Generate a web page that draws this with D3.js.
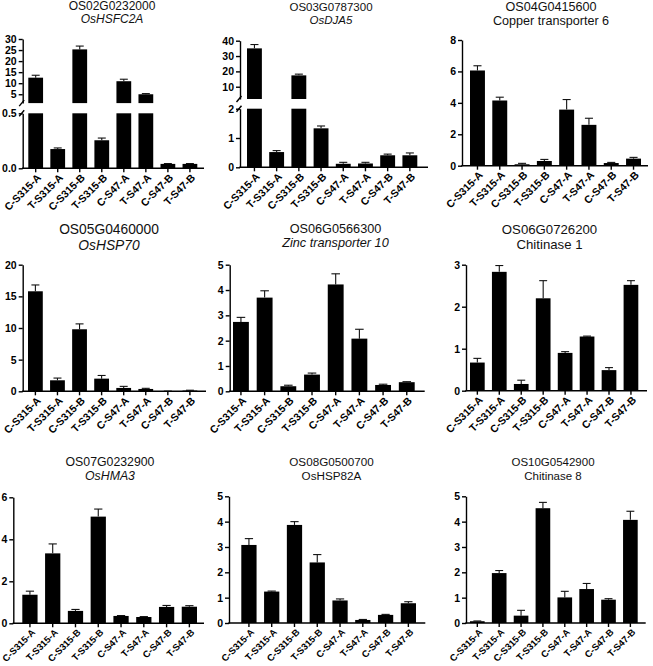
<!DOCTYPE html>
<html><head><meta charset="utf-8">
<script src="https://cdn.jsdelivr.net/npm/d3@7"></script>
<style>
html,body{margin:0;padding:0;background:#fff;}
svg{display:block;}
text{font-family:"Liberation Sans",Arial,Helvetica,sans-serif;}
</style></head>
<body>
<svg id="c" width="653" height="666"></svg>
<script>
// ---------- data ----------
const categories = ["C-S315-A","T-S315-A","C-S315-B","T-S315-B","C-S47-A","T-S47-A","C-S47-B","T-S47-B"];

const geneIds   = ["OS02G0232000","OS03G0787300","OS04G0415600","OS05G0460000","OS06G0566300","OS06G0726200","OS07G0232900","OS08G0500700","OS10G0542900"];
const geneNames = ["OsHSFC2A","OsDJA5","Copper transporter 6","OsHSP70","Zinc transporter 10","Chitinase 1","OsHMA3","OsHSP82A","Chitinase 8"];
const nameItalic = [true,true,false,true,true,false,true,false,false];

const hsfc2a     = [12.5, 0.175, 25.3, 0.255, 10.9, 5.0, 0.04, 0.04];
const hsfc2aErr  = [1.1, 0.01, 1.5, 0.02, 0.9, 0.3, 0.003, 0.003];
const dja5       = [35, 0.52, 17.4, 1.33, 0.12, 0.13, 0.41, 0.41];
const dja5Err    = [2.5, 0.05, 0.8, 0.08, 0.05, 0.04, 0.04, 0.08];
const copper6    = [6.06, 4.15, 0.09, 0.3, 3.57, 2.6, 0.17, 0.45];
const copper6Err = [0.3, 0.21, 0.06, 0.1, 0.64, 0.42, 0.04, 0.08];
const hsp70      = [15.8, 1.74, 9.8, 2.0, 0.53, 0.37, 0.02, 0.12];
const hsp70Err   = [1.0, 0.35, 0.85, 0.5, 0.25, 0.1, 0.01, 0.05];
const zinc10     = [2.74, 3.7, 0.2, 0.66, 4.22, 2.08, 0.25, 0.36];
const zinc10Err  = [0.18, 0.27, 0.04, 0.06, 0.42, 0.37, 0.03, 0.02];
const chit1      = [0.67, 2.83, 0.16, 2.2, 0.9, 1.29, 0.49, 2.52];
const chit1Err   = [0.1, 0.15, 0.09, 0.42, 0.03, 0.01, 0.06, 0.1];
const hma3       = [1.36, 3.33, 0.59, 5.08, 0.35, 0.3, 0.78, 0.79];
const hma3Err    = [0.17, 0.45, 0.07, 0.36, 0.02, 0.02, 0.07, 0.05];
const hsp82a     = [3.08, 1.24, 3.87, 2.39, 0.89, 0.12, 0.32, 0.78];
const hsp82aErr  = [0.25, 0.02, 0.13, 0.31, 0.06, 0.02, 0.02, 0.06];
const chit8      = [0.07, 1.97, 0.29, 4.53, 1.01, 1.34, 0.92, 4.07];
const chit8Err   = [0.01, 0.1, 0.21, 0.23, 0.24, 0.22, 0.04, 0.34];

const seriesValues = [hsfc2a, dja5, copper6, hsp70, zinc10, chit1, hma3, hsp82a, chit8];
const seriesErrors = [hsfc2aErr, dja5Err, copper6Err, hsp70Err, zinc10Err, chit1Err, hma3Err, hsp82aErr, chit8Err];

// y domains and tick labels (broken axes have a lower and an upper segment)
const yDomains = [
  {lower:[0,0.5], upper:[1,30]},
  {lower:[0,2], upper:[2,40]},
  {lower:[0,8]}, {lower:[0,20]}, {lower:[0,5]}, {lower:[0,3]},
  {lower:[0,6]}, {lower:[0,5]}, {lower:[0,5]}
];
const yTicksLower = [[0,0.5],[0,1,2],[0,2,4,6,8],[0,5,10,15,20],[0,1,2,3,4,5],[0,1,2,3],[0,2,4,6],[0,1,2,3,4,5],[0,1,2,3,4,5]];
const yTicksUpper = [[5,10,15,20,25,30],[10,20,30,40],null,null,null,null,null,null,null];
const yTickFormats = [".1f","d","d","d","d","d","d","d","d"];

// ---------- layout (pixel geometry per panel) ----------
const layout = [
  {ax0:22.7, ax1:204, bL:28.3, bR:197.3, y0:168.3, yLT:113.3, yUB:103.1, yT:39,   cx:112,   t1:10,    t2:23,   fs:12,   xfs:10.5},
  {ax0:240,  ax1:428, bL:247,  bR:417.3, y0:167.3, yLT:108.7, yUB:99,    yT:40.7, cx:331,   t1:10.5,  t2:23.5, fs:11.5, xfs:10.5},
  {ax0:462,  ax1:648, bL:470,  bR:641,   y0:165.7, yT:40,   cx:551,   t1:11,    t2:25,   fs:12.6, xfs:10.5},
  {ax0:22.7, ax1:206, bL:28,   bR:197.3, y0:391.3, yT:264.7, cx:109,  t1:234,   t2:249.5, fs:13.8, xfs:10.5},
  {ax0:229.7,ax1:424.7,bL:233, bR:414.7, y0:391.3, yT:264.7, cx:335.5,t1:232.7, t2:247,   fs:12.7, xfs:10.5},
  {ax0:466,  ax1:647, bL:470,  bR:638.3, y0:390.7, yT:264.7, cx:549.5,t1:234.3, t2:249,   fs:13.2, xfs:10.5},
  {ax0:13.3, ax1:204, bL:22.3, bR:197,   y0:623.3, yT:497.3, cx:110,  t1:465.7, t2:479.5, fs:12.3, xfs:9.4},
  {ax0:229,  ax1:425.3,bL:241.3,bR:416,  y0:623,   yT:496.3, cx:331.5,t1:465.7, t2:479.5, fs:11.7, xfs:9.4},
  {ax0:466,  ax1:645.7,bL:470, bR:637.7, y0:623,   yT:496.3, cx:553,  t1:466.3, t2:480,   fs:11.5, xfs:9.4}
];

const svg = d3.select("#c");
const SW = 1.4;

seriesValues.forEach((vals, i) => {
  const L = layout[i], dom = yDomains[i], errs = seriesErrors[i];
  const g = svg.append("g");
  const broken = !!dom.upper;

  const x = d3.scaleBand().domain(categories).range([L.bL, L.bR]).paddingInner(0.33).paddingOuter(0);
  const yLow = d3.scaleLinear().domain(dom.lower).range([L.y0, broken ? L.yLT : L.yT]);
  const yUp = broken ? d3.scaleLinear().domain(dom.upper).range([L.yUB, L.yT]) : null;
  const yMap = v => (broken && v > dom.lower[1]) ? yUp(Math.max(v, dom.upper[0])) : yLow(v);

  // title
  g.append("text").attr("x", L.cx).attr("y", L.t1).attr("text-anchor","middle")
    .attr("font-size", L.fs).attr("fill","#111").text(geneIds[i]);
  g.append("text").attr("x", L.cx).attr("y", L.t2).attr("text-anchor","middle")
    .attr("font-size", L.fs).attr("fill","#111")
    .attr("font-style", nameItalic[i] ? "italic" : "normal").text(geneNames[i]);

  // bars
  vals.forEach((v, j) => {
    const bx = x(categories[j]), bw = x.bandwidth();
    if (broken && v > dom.lower[1]) {
      g.append("rect").attr("x", bx).attr("width", bw)
        .attr("y", yLow(dom.lower[1])).attr("height", yLow(0) - yLow(dom.lower[1])).attr("fill","#000");
      g.append("rect").attr("x", bx).attr("width", bw)
        .attr("y", yUp(v)).attr("height", yUp(dom.upper[0]) - yUp(v)).attr("fill","#000");
    } else {
      g.append("rect").attr("x", bx).attr("width", bw)
        .attr("y", yLow(v)).attr("height", yLow(0) - yLow(v)).attr("fill","#000");
    }
    // error bar (upper)
    const e = errs[j];
    const cxm = bx + bw / 2;
    const yTopE = yMap(v + e), yB = yMap(v);
    g.append("line").attr("x1", cxm).attr("x2", cxm).attr("y1", yB).attr("y2", yTopE)
      .attr("stroke","#111").attr("stroke-width", 1.1);
    g.append("line").attr("x1", cxm - bw * 0.27).attr("x2", cxm + bw * 0.27).attr("y1", yTopE).attr("y2", yTopE)
      .attr("stroke","#111").attr("stroke-width", 1.1);
  });

  // y axis (lower segment)
  const fmt = d3.format(yTickFormats[i]);
  g.append("g").attr("transform", `translate(${L.ax0},0)`)
    .call(d3.axisLeft(yLow).tickValues(yTicksLower[i]).tickFormat(fmt).tickSize(4).tickSizeOuter(0).tickPadding(2));
  if (broken) {
    g.append("g").attr("transform", `translate(${L.ax0},0)`)
      .call(d3.axisLeft(yUp).tickValues(yTicksUpper[i]).tickFormat(d3.format("d")).tickSize(4).tickSizeOuter(0).tickPadding(2));
    // break marks
    [L.yUB, L.yLT].forEach(yy => {
      g.append("line").attr("x1", L.ax0 - 3.5).attr("x2", L.ax0 + 1.5).attr("y1", yy + 3).attr("y2", yy - 3)
        .attr("stroke","#000").attr("stroke-width", SW);
    });
  }
  g.selectAll(".domain").attr("stroke","#000").attr("stroke-width", SW);
  g.selectAll(".tick line").attr("stroke","#000").attr("stroke-width", SW);
  g.selectAll(".tick text").attr("font-size", 10.5).attr("font-weight","bold").attr("fill","#000")
    .attr("font-family", '"Liberation Sans",Arial,sans-serif');

  // x axis
  const axX = g.append("g").attr("transform", `translate(0,${L.y0})`)
    .call(d3.axisBottom(x).tickSize(4).tickSizeOuter(0).tickPadding(3));
  axX.select(".domain").remove();
  g.append("line").attr("x1", L.ax0 - SW/2).attr("x2", L.ax1).attr("y1", L.y0).attr("y2", L.y0)
    .attr("stroke","#000").attr("stroke-width", SW);
  axX.selectAll(".tick line").attr("stroke","#000").attr("stroke-width", SW);
  axX.selectAll(".tick text")
    .attr("font-size", L.xfs).attr("font-weight","bold").attr("fill","#000")
    .attr("font-family", '"Liberation Sans",Arial,sans-serif')
    .attr("text-anchor","end").attr("dy", null).attr("y", 0).attr("x", 0)
    .attr("transform", "translate(4,8) rotate(-45)")
    .attr("dominant-baseline","middle");
});
</script>
</body></html>
